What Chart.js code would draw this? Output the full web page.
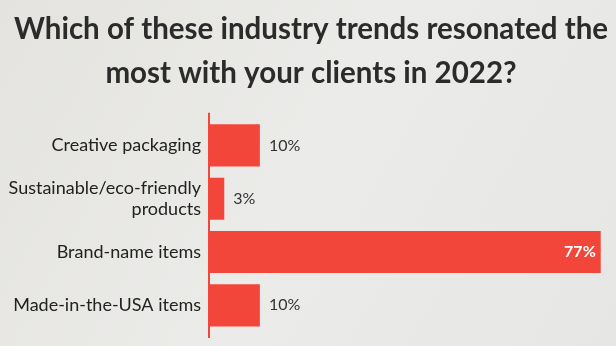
<!DOCTYPE html>
<html>
<head>
<meta charset="utf-8">
<script src="https://cdn.jsdelivr.net/npm/chart.js@4/dist/chart.umd.min.js"></script>
<style>
  html, body { margin: 0; padding: 0; background: #e8e8e6; }
  #wrap { width: 616px; height: 346px; position: relative; }
</style>
</head>
<body>
<div id="wrap"><canvas id="c" width="616" height="346"></canvas></div>
<script>
const titleLines = ['Which of these industry trends resonated the', 'most with your clients in 2022?'];
const categories = ['Creative packaging', ['Sustainable/eco-friendly', 'products'], 'Brand-name items', 'Made-in-the-USA items'];
const values = [10, 3, 77, 10];
const valueLabels = ['10%', '3%', '77%', '10%'];

const RED = '#f3463a';

const bgPlugin = {
  id: 'bg',
  beforeDraw(chart) {
    const ctx = chart.ctx;
    const g = ctx.createLinearGradient(0, 0, chart.width, chart.height);
    g.addColorStop(0, '#e4e3df');
    g.addColorStop(0.5, '#ebebe9');
    g.addColorStop(1, '#e6e6e4');
    ctx.save();
    ctx.fillStyle = g;
    ctx.fillRect(0, 0, chart.width, chart.height);
    ctx.restore();
  }
};

const axisLinePlugin = {
  id: 'axisLine',
  afterDatasetsDraw(chart) {
    const { ctx, chartArea } = chart;
    const x = chart.scales.x.getPixelForValue(0);
    ctx.save();
    ctx.strokeStyle = RED;
    ctx.lineWidth = 2;
    ctx.beginPath();
    ctx.moveTo(x, chartArea.top - 6);
    ctx.lineTo(x, chartArea.bottom + 6);
    ctx.stroke();
    ctx.restore();
  }
};

const valueLabelPlugin = {
  id: 'valueLabels',
  afterDatasetsDraw(chart) {
    const ctx = chart.ctx;
    const meta = chart.getDatasetMeta(0);
    ctx.save();
    ctx.textBaseline = 'middle';
    meta.data.forEach((bar, i) => {
      const v = values[i];
      if (v > 50) {
        ctx.font = 'bold 16px Lato';
        ctx.fillStyle = '#ffffff';
        ctx.textAlign = 'right';
        ctx.fillText(valueLabels[i], bar.x - 5, bar.y);
      } else {
        ctx.font = '16px Lato';
        ctx.fillStyle = '#333333';
        ctx.textAlign = 'left';
        ctx.fillText(valueLabels[i], bar.x + 9, bar.y);
      }
    });
    ctx.restore();
  }
};

new Chart(document.getElementById('c'), {
  type: 'bar',
  data: {
    labels: categories,
    datasets: [{
      data: values,
      backgroundColor: RED,
      borderWidth: 0,
      barPercentage: 0.79,
      categoryPercentage: 1.0
    }]
  },
  options: {
    indexAxis: 'y',
    responsive: false,
    animation: false,
    devicePixelRatio: 1,
    layout: { padding: { left: 6, right: 0, top: 0, bottom: 14 } },
    plugins: {
      legend: { display: false },
      tooltip: { enabled: false },
      title: {
        display: true,
        align: 'center',
        text: titleLines,
        color: '#2b2b2b',
        font: { family: 'Lato', size: 29.5, weight: 'bold', lineHeight: 1.47 },
        padding: { top: 8, bottom: 24 }
      }
    },
    scales: {
      x: {
        display: false,
        min: 0,
        max: 80
      },
      y: {
        grid: { display: false, drawTicks: false },
        border: { display: false },
        afterFit(scale) {
          scale.width = 203;
          scale.paddingTop = 0;
          scale.paddingBottom = 0;
        },
        ticks: {
          color: '#222222',
          font: { family: 'Lato', size: 18, lineHeight: 1.2 },
          padding: 8
        }
      }
    }
  },
  plugins: [bgPlugin, axisLinePlugin, valueLabelPlugin]
});
</script>
</body>
</html>
